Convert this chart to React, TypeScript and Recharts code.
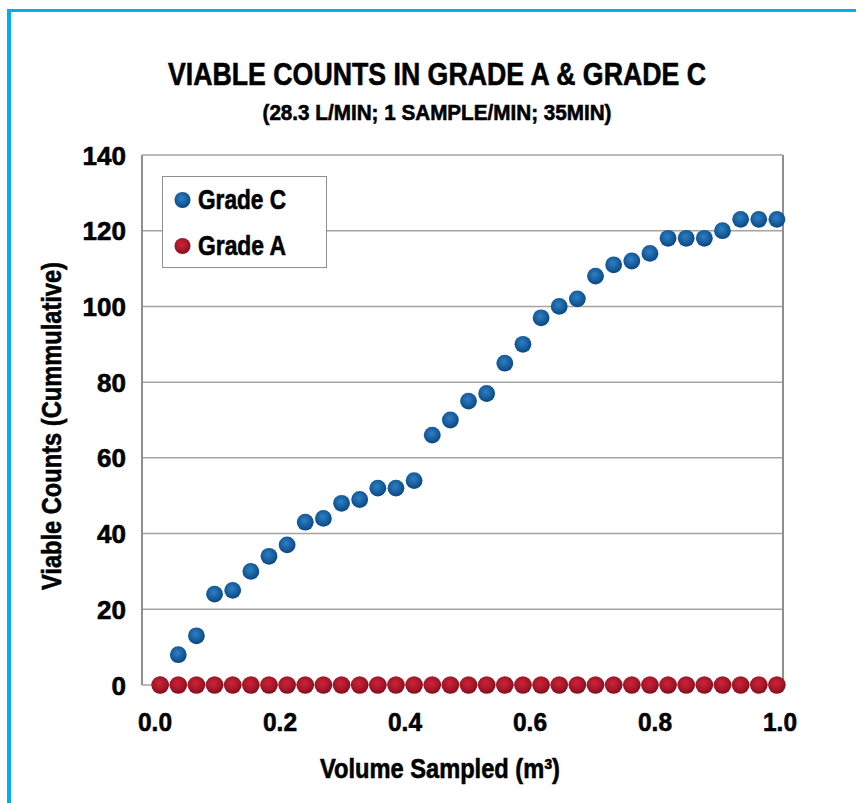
import React from "react";
import { ScatterChart, Scatter, XAxis, YAxis, CartesianGrid, Legend, ReferenceLine } from "recharts";

// Cumulative volume sampled (m³): 28.3 L per sample, 35 samples
const volume = [
  0.0283, 0.0566, 0.0849, 0.1132, 0.1415, 0.1698, 0.1981, 0.2264, 0.2547, 0.283,
  0.3113, 0.3396, 0.3679, 0.3962, 0.4245, 0.4528, 0.4811, 0.5094, 0.5377, 0.566,
  0.5943, 0.6226, 0.6509, 0.6792, 0.7075, 0.7358, 0.7641, 0.7924, 0.8207, 0.849,
  0.8773, 0.9056, 0.9339, 0.9622, 0.9905,
];
const gradeC = [
  0, 8, 13, 24, 25, 30, 34, 37, 43, 44, 48, 49, 52, 52, 54, 66, 70, 75, 77, 85,
  90, 97, 100, 102, 108, 111, 112, 114, 118, 118, 118, 120, 123, 123, 123,
];
const gradeA = [
  0, 0, 0, 0, 0, 0, 0, 0, 0, 0, 0, 0, 0, 0, 0, 0, 0, 0, 0, 0,
  0, 0, 0, 0, 0, 0, 0, 0, 0, 0, 0, 0, 0, 0, 0,
];
const xTicks = [0, 0.2, 0.4, 0.6, 0.8, 1.0];
const yTicks = [0, 20, 40, 60, 80, 100, 120, 140];
const seriesNames = ["Grade C", "Grade A"];

const title = "VIABLE COUNTS IN GRADE A & GRADE C";
const subtitle = "(28.3 L/MIN; 1 SAMPLE/MIN; 35MIN)";
const yTitle = "Viable Counts (Cummulative)";
const xTitle = "Volume Sampled (m³)";

const dataC = volume.map((x, i) => ({ x, y: gradeC[i] }));
const dataA = volume.map((x, i) => ({ x, y: gradeA[i] }));

const FONT = "'Liberation Sans', Arial, sans-serif";
const GRID = "#a3a3a3";
const BORDER = "#8f8f8f";
const HEAVY = { stroke: "#000", strokeWidth: 0.6 };

const gradFor: Record<string, string> = { "#175e9e": "url(#gBlue)", "#a8172a": "url(#gRed)" };

const BlueDot = (p: any) => <circle cx={p.cx} cy={p.cy} r={8.4} fill="url(#gBlue)" />;
const RedDot = (p: any) => <circle cx={p.cx} cy={p.cy} r={8.8} fill="url(#gRed)" />;

const XTick = (p: any) => {
  const v = p.payload.value as number;
  return (
    <text x={p.x + 13 - 16 * v} y={p.y + 44} textAnchor="middle" fontFamily={FONT} fontWeight="bold" fontSize={26} fill="#000" {...HEAVY} textLength={34} lengthAdjust="spacingAndGlyphs">
      {v.toFixed(1)}
    </text>
  );
};
const YTick = (p: any) => (
  <text x={126} y={p.y + 9.5} textAnchor="end" fontFamily={FONT} fontWeight="bold" fontSize={26} fill="#000" {...HEAVY}>
    {p.payload.value}
  </text>
);

const LegendBox = (props: any) => {
  const payload = [...(props.payload || [])].sort(
    (a: any, b: any) => seriesNames.indexOf(a.value) - seriesNames.indexOf(b.value)
  );
  return (
    <div style={{ width: 163, height: 90, border: `1.5px solid ${BORDER}`, background: "#fff", boxSizing: "content-box" }}>
      <svg width={163} height={90} style={{ display: "block" }}>
        {payload.map((e: any, i: number) => (
          <g key={i}>
            <circle cx={19.5} cy={23 + i * 46} r={8} fill={gradFor[e.color] || e.color} />
            <text x={35} y={32 + i * 46} fontFamily={FONT} fontWeight="bold" fontSize={27} fill="#000" {...HEAVY} textLength={88} lengthAdjust="spacingAndGlyphs">
              {e.value}
            </text>
          </g>
        ))}
      </svg>
    </div>
  );
};

export default function App() {
  return (
    <div style={{ position: "absolute", left: 0, top: 0, width: 856, height: 803, overflow: "hidden", background: "#fff" }}>
      <svg width={0} height={0} style={{ position: "absolute" }}>
        <defs>
          <radialGradient id="gBlue" cx="45%" cy="40%" r="60%">
            <stop offset="0%" stopColor="#2f7fc4" />
            <stop offset="60%" stopColor="#175e9e" />
            <stop offset="100%" stopColor="#0c4680" />
          </radialGradient>
          <radialGradient id="gRed" cx="45%" cy="40%" r="60%">
            <stop offset="0%" stopColor="#cc2437" />
            <stop offset="60%" stopColor="#a8172a" />
            <stop offset="100%" stopColor="#820d1c" />
          </radialGradient>
        </defs>
      </svg>
      <div style={{ position: "absolute", left: 7, top: 9, width: 1000, height: 1000, borderTop: "3px solid #00aeef", borderLeft: "4px solid #00aeef" }} />
      <div style={{ position: "absolute", left: 0, top: 0 }}>
        <ScatterChart width={856} height={803} margin={{ top: 155, right: 73, bottom: 58, left: 0 }}>
          <CartesianGrid vertical={false} stroke={GRID} strokeWidth={1.5} />
          <XAxis type="number" dataKey="x" domain={[0, 1]} ticks={xTicks} height={60} axisLine={false} tickLine={false} tickSize={0} tick={<XTick />} interval={0} />
          <YAxis type="number" dataKey="y" domain={[0, 140]} ticks={yTicks} width={142} axisLine={{ stroke: BORDER, strokeWidth: 2 }} tickLine={false} tick={<YTick />} interval={0} />
          <ReferenceLine x={1} stroke={BORDER} strokeWidth={2} />
          <Legend layout="vertical" align="center" verticalAlign="middle" content={<LegendBox />} wrapperStyle={{ left: 162, top: 176, width: 166, height: 93 }} />
          <Scatter name={seriesNames[0]} data={dataC} fill="#175e9e" shape={<BlueDot />} isAnimationActive={false} />
          <Scatter name={seriesNames[1]} data={dataA} fill="#a8172a" shape={<RedDot />} isAnimationActive={false} />
        </ScatterChart>
      </div>
      <svg width={856} height={803} style={{ position: "absolute", left: 0, top: 0, pointerEvents: "none" }}>
        <text x={437} y={85} textAnchor="middle" fontFamily={FONT} fontWeight="bold" fontSize={32} fill="#000" {...HEAVY} textLength={538} lengthAdjust="spacingAndGlyphs">{title}</text>
        <text x={437} y={120} textAnchor="middle" fontFamily={FONT} fontWeight="bold" fontSize={22} fill="#000" {...HEAVY} textLength={349} lengthAdjust="spacingAndGlyphs">{subtitle}</text>
        <text x={0} y={0} transform="translate(61 426) rotate(-90)" textAnchor="middle" fontFamily={FONT} fontWeight="bold" fontSize={27} fill="#000" {...HEAVY} textLength={328} lengthAdjust="spacingAndGlyphs">{yTitle}</text>
        <text x={440} y={778} textAnchor="middle" fontFamily={FONT} fontWeight="bold" fontSize={28} fill="#000" {...HEAVY} textLength={240} lengthAdjust="spacingAndGlyphs">{xTitle}</text>
      </svg>
    </div>
  );
}
